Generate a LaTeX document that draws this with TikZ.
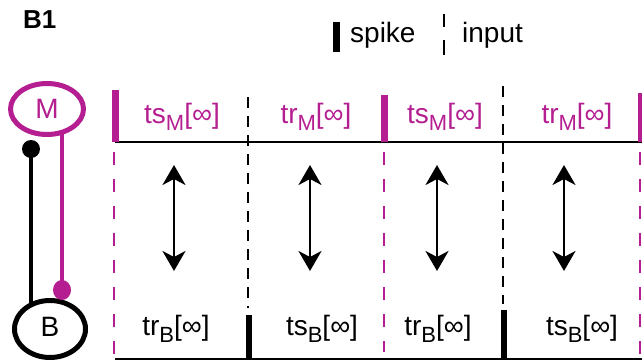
\documentclass[tikz,border=0pt]{standalone}
\usepackage{fontspec}
\setmainfont{Liberation Sans}
\usetikzlibrary{arrows.meta,shapes.geometric,backgrounds}
\definecolor{mag}{RGB}{180,30,145}
% lowered, smaller subscript letter
\newcommand\lsub[1]{\raisebox{-7pt}{\fontsize{22}{22}\selectfont #1}}
\begin{document}
\begin{tikzpicture}[x=1pt,y=-1pt,
  lbl/.style={font=\fontsize{28}{30}\selectfont, inner sep=0pt, anchor=base},
  neuron/.style={ellipse, line width=5pt, fill=white, inner sep=0pt,
    font=\fontsize{28}{30}\selectfont},
  timeline/.style={line width=2pt},
  spikebar/.style={line width=7pt},
  inputdash/.style={line width=2.5pt, dash pattern=on 11pt off 8pt},
  magdash/.style={mag, line width=2.5pt, dash pattern=on 13pt off 14pt},
  dbl/.style={line width=2.5pt,
    {Stealth[length=20pt,width=23pt,inset=6pt]}-{Stealth[length=20pt,width=23pt,inset=6pt]}}]
\useasboundingbox (0,0) rectangle (642,361);

% panel title and legend
\node[font=\bfseries\fontsize{26}{26}\selectfont, inner sep=0pt, anchor=base west] (title) at (23,29) {B1};
\draw[spikebar] (336,22) -- (336,52);
\node[lbl, anchor=base west] (spike) at (350,43) {spike};
\draw[line width=2.5pt] (444,14) -- (444,27);
\draw[line width=2.5pt] (444,40) -- (444,55);
\node[lbl, anchor=base west] (input) at (462,43) {input};

% the two neurons and their synapses
\node[neuron, draw=mag, text=mag, minimum width=73pt, minimum height=51pt] (M) at (47,109) {\raisebox{-3pt}{M}};
\node[neuron, draw=black, minimum width=71pt, minimum height=57pt] (B) at (50,329) {\raisebox{5pt}{B}};
\coordinate (mdot) at (31,149);
\coordinate (bdot) at (62,290);
\begin{scope}[on background layer]
  \draw[line width=4pt] (mdot) -- (mdot |- B.center);
  \draw[mag, line width=4pt] (bdot |- M.center) -- (bdot);
\end{scope}
\fill (mdot) circle (9pt);
\fill[mag] (bdot) ellipse [x radius=9pt, y radius=10pt];

% time lines
\draw[timeline] (115,142) -- (642,142);
\draw[timeline] (115,359) -- (642,359);

% spikes of M (magenta) with their dashed continuation
\draw[spikebar, mag] (115,90) -- (115,142);
\draw[spikebar, mag] (384,95) -- (384,142);
\draw[spikebar, mag] (641,93) -- (641,142);
\draw[magdash] (114,152) -- (114,361);
\draw[magdash] (384,152) -- (384,352);
\draw[magdash] (640,152) -- (640,361);

% inputs (dashed) ending in spikes of B
\draw[inputdash] (248,97) -- (248,308);
\draw[inputdash] (503,86) -- (503,304);
\draw[spikebar, line width=6pt] (249,315) -- (249,360);
\draw[spikebar, line width=6pt] (504,310) -- (504,360);

% double arrows
\draw[dbl] (174,165) -- (174,271);
\draw[dbl] (310,165) -- (310,271);
\draw[dbl] (437,165) -- (437,271);
\draw[dbl] (564,165) -- (564,271);

% labels of the M intervals
\node[lbl, text=mag] (m1) at (182,123) {ts\lsub{M}[∞]};
\node[lbl, text=mag] (m2) at (316,123) {tr\lsub{M}[∞]};
\node[lbl, text=mag] (m3) at (445,123) {ts\lsub{M}[∞]};
\node[lbl, text=mag] (m4) at (577,123) {tr\lsub{M}[∞]};

% labels of the B intervals
\node[lbl] (b1) at (176,335) {tr\lsub{B}[∞]};
\node[lbl] (b2) at (322,335) {ts\lsub{B}[∞]};
\node[lbl] (b3) at (438,335) {tr\lsub{B}[∞]};
\node[lbl] (b4) at (582,335) {ts\lsub{B}[∞]};
\end{tikzpicture}
\end{document}
